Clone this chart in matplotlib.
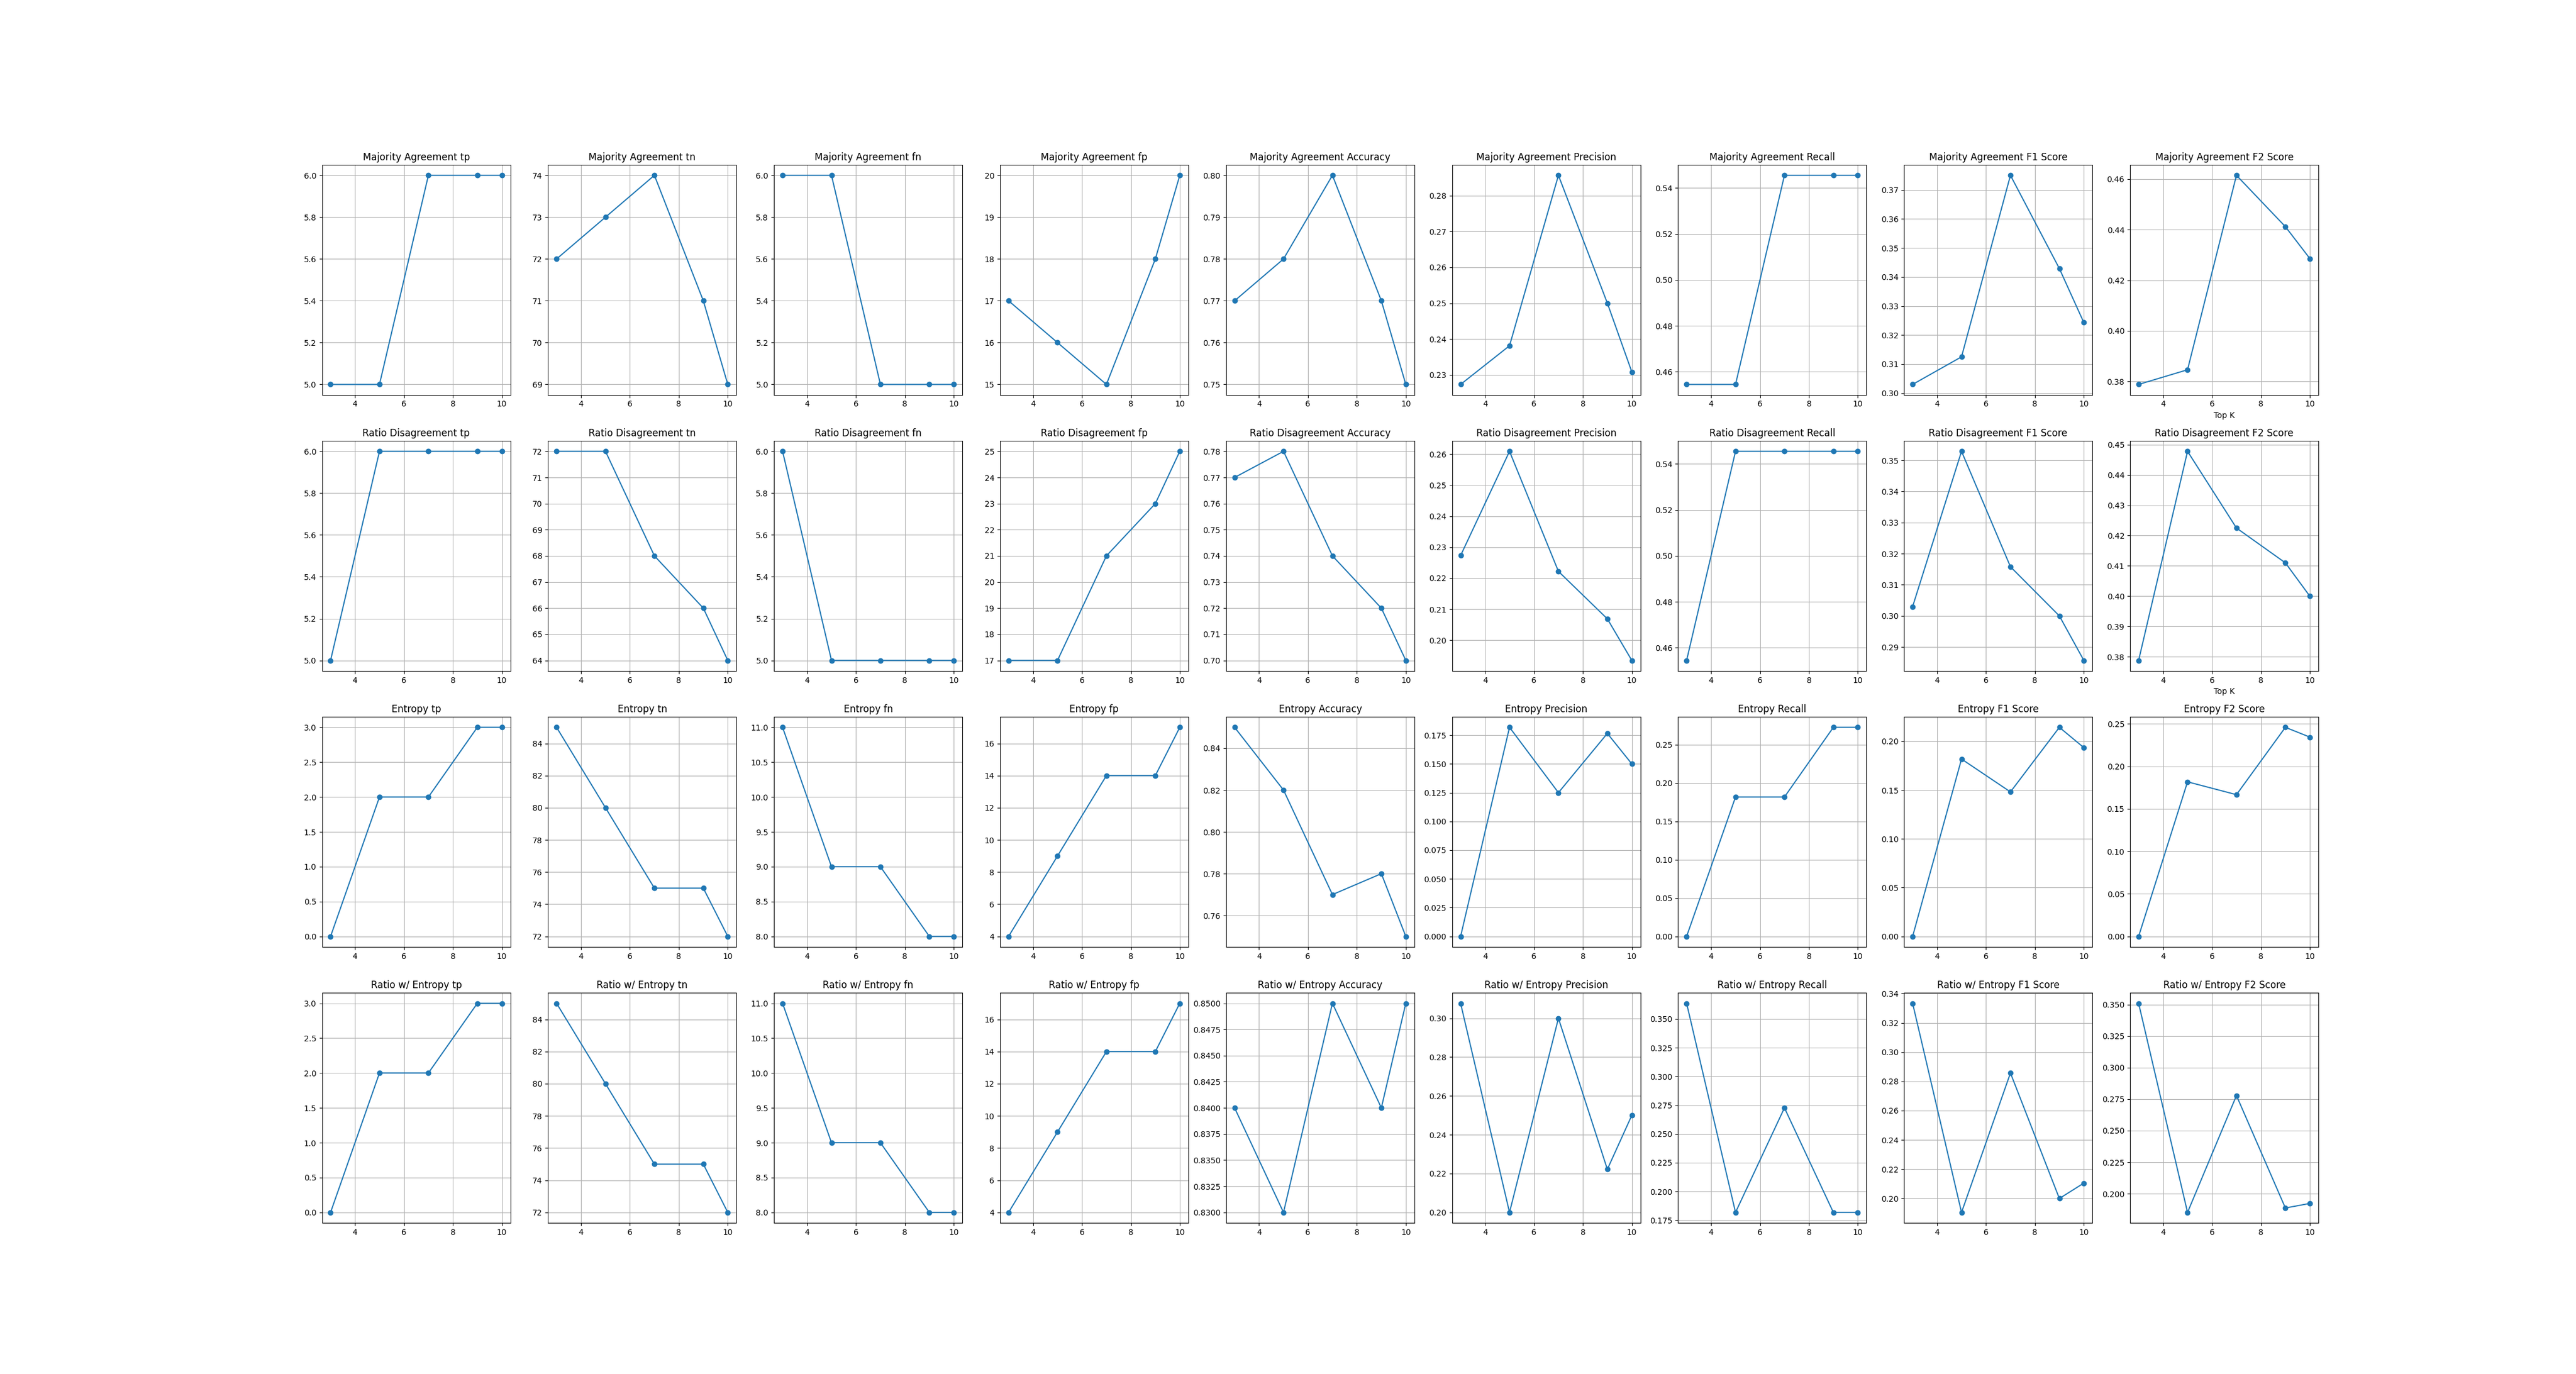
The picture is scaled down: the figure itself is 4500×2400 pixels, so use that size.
import matplotlib
matplotlib.use("Agg")
import matplotlib.pyplot as plt

# top-k values on the x axis
top_k = [3, 5, 7, 9, 10]

methods = ["Majority Agreement", "Ratio Disagreement", "Entropy", "Ratio w/ Entropy"]
metrics = ["tp", "tn", "fn", "fp", "Accuracy", "Precision", "Recall", "F1 Score", "F2 Score"]

majority_tp = [5, 5, 6, 6, 6]
majority_tn = [72, 73, 74, 71, 69]
majority_fn = [6, 6, 5, 5, 5]
majority_fp = [17, 16, 15, 18, 20]
majority_acc = [0.77, 0.78, 0.80, 0.77, 0.75]
majority_prec = [0.2273, 0.2381, 0.2857, 0.25, 0.2308]
majority_rec = [0.4545, 0.4545, 0.5455, 0.5455, 0.5455]
majority_f1 = [0.3030, 0.3125, 0.375, 0.3429, 0.3243]
majority_f2 = [0.3788, 0.3846, 0.4615, 0.4412, 0.4286]

ratio_tp = [5, 6, 6, 6, 6]
ratio_tn = [72, 72, 68, 66, 64]
ratio_fn = [6, 5, 5, 5, 5]
ratio_fp = [17, 17, 21, 23, 25]
ratio_acc = [0.77, 0.78, 0.74, 0.72, 0.70]
ratio_prec = [0.2273, 0.2609, 0.2222, 0.2069, 0.1935]
ratio_rec = [0.4545, 0.5455, 0.5455, 0.5455, 0.5455]
ratio_f1 = [0.3030, 0.3529, 0.3158, 0.30, 0.2857]
ratio_f2 = [0.3788, 0.4478, 0.4225, 0.4110, 0.40]

entropy_tp = [0, 2, 2, 3, 3]
entropy_tn = [85, 80, 75, 75, 72]
entropy_fn = [11, 9, 9, 8, 8]
entropy_fp = [4, 9, 14, 14, 17]
entropy_acc = [0.85, 0.82, 0.77, 0.78, 0.75]
entropy_prec = [0.0, 0.1818, 0.125, 0.1765, 0.15]
entropy_rec = [0.0, 0.1818, 0.1818, 0.2727, 0.2727]
entropy_f1 = [0.0, 0.1818, 0.1481, 0.2143, 0.1935]
entropy_f2 = [0.0, 0.1818, 0.1667, 0.2459, 0.2344]

ratio_ent_tp = [0, 2, 2, 3, 3]
ratio_ent_tn = [85, 80, 75, 75, 72]
ratio_ent_fn = [11, 9, 9, 8, 8]
ratio_ent_fp = [4, 9, 14, 14, 17]
ratio_ent_acc = [0.84, 0.83, 0.85, 0.84, 0.85]
ratio_ent_prec = [0.3077, 0.20, 0.30, 0.2222, 0.25]
ratio_ent_rec = [0.3636, 0.1818, 0.2727, 0.1818, 0.1818]
ratio_ent_f1 = [0.3333, 0.1905, 0.2857, 0.20, 0.2105]
ratio_ent_f2 = [0.3509, 0.1852, 0.2778, 0.1887, 0.1923]

rows = [
    [majority_tp, majority_tn, majority_fn, majority_fp, majority_acc,
     majority_prec, majority_rec, majority_f1, majority_f2],
    [ratio_tp, ratio_tn, ratio_fn, ratio_fp, ratio_acc,
     ratio_prec, ratio_rec, ratio_f1, ratio_f2],
    [entropy_tp, entropy_tn, entropy_fn, entropy_fp, entropy_acc,
     entropy_prec, entropy_rec, entropy_f1, entropy_f2],
    [ratio_ent_tp, ratio_ent_tn, ratio_ent_fn, ratio_ent_fp, ratio_ent_acc,
     ratio_ent_prec, ratio_ent_rec, ratio_ent_f1, ratio_ent_f2],
]

fig, axes = plt.subplots(4, 9, figsize=(45, 24), dpi=100)

for i, method in enumerate(methods):
    for j, metric in enumerate(metrics):
        ax = axes[i][j]
        ax.plot(top_k, rows[i][j], marker="o")
        ax.set_title(method + " " + metric)
        ax.grid(True)

# only the first two rows got an x label on the last column
axes[0][8].set_xlabel("Top K")
axes[1][8].set_xlabel("Top K")

fig.savefig("out.png")
